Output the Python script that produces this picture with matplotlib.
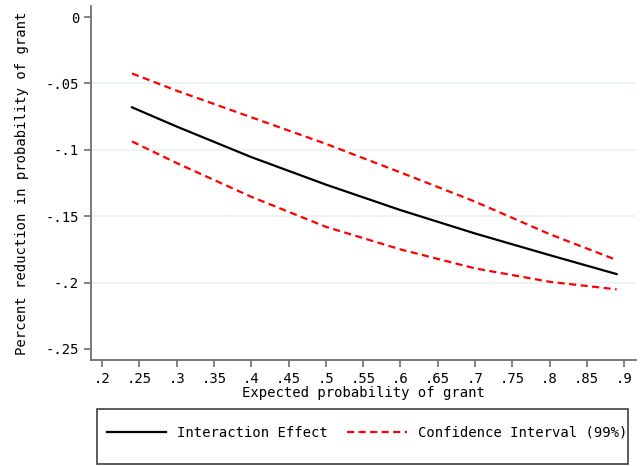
import matplotlib.pyplot as plt
from matplotlib.patches import Rectangle

# values
expected_prob = [0.24, 0.30, 0.40, 0.50, 0.60, 0.70, 0.80, 0.89]
effect = [-0.068, -0.0825, -0.1055, -0.1262, -0.1454, -0.163, -0.1793, -0.1936]
ci_upper = [-0.0425, -0.0555, -0.0755, -0.0955, -0.117, -0.139, -0.1635, -0.183]
ci_lower = [-0.0937, -0.110, -0.1354, -0.158, -0.175, -0.1893, -0.1994, -0.2051]

x_ticks = [0.2, 0.25, 0.3, 0.35, 0.4, 0.45, 0.5, 0.55, 0.6, 0.65, 0.7, 0.75, 0.8, 0.85, 0.9]
x_labels = ['.2', '.25', '.3', '.35', '.4', '.45', '.5', '.55', '.6', '.65', '.7', '.75', '.8', '.85', '.9']
y_ticks = [0, -0.05, -0.1, -0.15, -0.2, -0.25]
y_labels = ['0', '-.05', '-.1', '-.15', '-.2', '-.25']

plt.rcParams['font.family'] = ['DejaVu Sans Mono']
plt.rcParams['font.size'] = 10

fig = plt.figure(figsize=(6.44, 4.66), dpi=100)
ax = fig.add_axes([0.1413, 0.2275, 0.8463, 0.7596])

# grid only on inner y ticks (Stata style)
for y in y_ticks[1:-1]:
    ax.axhline(y, color='#EAF2F3', linewidth=1.2, zorder=1)

l1, = ax.plot(expected_prob, effect, color='black', linewidth=1.6, zorder=3)
l2, = ax.plot(expected_prob, ci_upper, color='#FF0000', linewidth=1.6,
              dashes=(3.2, 2), zorder=3)
ax.plot(expected_prob, ci_lower, color='#FF0000', linewidth=1.6,
        dashes=(3.2, 2), zorder=3)

ax.set_xlim(0.185, 0.916)
ax.set_ylim(-0.2583, 0.0083)
ax.set_xticks(x_ticks)
ax.set_xticklabels(x_labels)
ax.set_yticks(y_ticks)
ax.set_yticklabels(y_labels)

for side in ['top', 'right']:
    ax.spines[side].set_visible(False)
for side in ['left', 'bottom']:
    ax.spines[side].set_color('#707070')
    ax.spines[side].set_linewidth(1.3)
ax.tick_params(axis='both', colors='#707070', labelcolor='black',
               length=5, width=1.2, direction='out')
ax.tick_params(axis='x', pad=4)

ax.set_xlabel('Expected probability of grant', labelpad=0)
ax.set_ylabel('Percent reduction in probability of grant', labelpad=12)

# legend box
fig.patches.append(Rectangle((97 / 644, 1 - 464 / 466), 531 / 644, 55 / 466,
                             transform=fig.transFigure, fill=False,
                             edgecolor='#404040', linewidth=1.2))
fig.legend([l1, l2], ['Interaction Effect', 'Confidence Interval (99%)'],
           ncol=2, frameon=False, loc='center left',
           bbox_to_anchor=(94 / 644, 1 - 433 / 466),
           handlelength=4.3, handletextpad=0.8, columnspacing=1.35)

fig.savefig('out.png', dpi=100)
